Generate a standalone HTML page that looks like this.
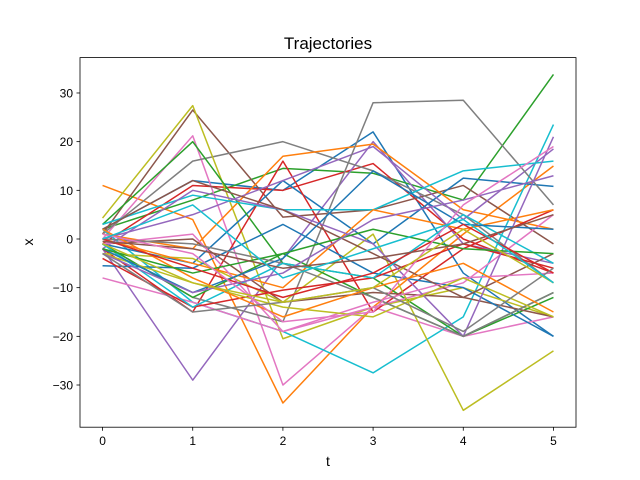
<!DOCTYPE html>
<html><head><meta charset="utf-8"><style>
body{margin:0;background:#fff}
svg{display:block;font-family:"Liberation Sans","DejaVu Sans",sans-serif}
</style></head><body>
<svg id="chart" width="640" height="480">
<rect width="640" height="480" fill="#fff"/>
<text x="328" y="49" text-anchor="middle" font-size="17">Trajectories</text>
<g id="plot"></g>
<text x="328" y="466" text-anchor="middle" font-size="14">t</text>
<text x="0" y="0" transform="translate(33,242) rotate(-90)" text-anchor="middle" font-size="14">x</text>
</svg>
<script>
const times = [0,1,2,3,4,5];
const xTicks = [0,1,2,3,4,5];
const yTicks = [-30,-20,-10,0,10,20,30];
const series = [
[2,12,10,22,-7,-20],
[11,4,-33.7,-14,1,15],
[2,8,14.5,13.5,8,33.8],
[-1,11,10,15.5,0,-7],
[-2,-29,-4,20,-1,-5],
[1,26.5,4.5,6,11,-1],
[0,21.2,-30,-14,-20,-16],
[1,16,20,14,5,-9],
[4.3,27.4,-20.5,-14,-10,-16],
[2,-13,-19,-27.5,-16,23.5],
[-1,-5,12,-1,12.5,10.8],
[1,-2,17,19.5,6,2],
[3,20,-5,-8,-20,-12],
[-2,-15,16,-15,-2,6],
[0,5,12,19,4,18.5],
[-1,0,-13,-11,-12,-16],
[-8,-13,-19,-14,-9,5],
[-1,-12,-17,28,28.5,7],
[-3,-4,-13,1,-35.2,-23],
[3,9,6,6,14,16],
[-5.5,-6,3,-7,-10,-20],
[0,-5,-10,6,2,6],
[-1,-12,-3,-12,-20,-11],
[-4,-14,-10.5,-8,-1,-6],
[-2,10,6,-1,-20,21],
[2,12,6,-3,-12,-3],
[-1,1,-19,-13,-8,-7],
[0,-1,-5,-12,-20,-11],
[-3,-9,-14,-16,-8,-16],
[-1,-14,-5,-8,5,-5],
[-2,-11,-4,14,3,2],
[2,-8,-16,-10,-5,-15],
[-2,-7,-3,2,-2,-3],
[0,-6,-12,-7,3,-7],
[-3,-11,-7,4,8,13],
[-0.5,-2,-6,-4,-1,5],
[1,-3,-17,-15,7,19],
[-3,-15,-13,-10,-19,-6],
[-1,-9,-13,-10,2,-9],
[0,7,-8,-2,4,-9]
];
const palette = ["#1f77b4","#ff7f0e","#2ca02c","#d62728","#9467bd","#8c564b","#e377c2","#7f7f7f","#bcbd22","#17becf"];
const L=80,R=576,T=57.6,B=427.2;
const xmin=-0.25,xmax=5.25,ymin=-38.67,ymax=37.27;
const sx=v=>L+(v-xmin)/(xmax-xmin)*(R-L);
const sy=v=>B-(v-ymin)/(ymax-ymin)*(B-T);
const NS="http://www.w3.org/2000/svg";
const g=document.getElementById('plot');
function mk(tag,attrs){const e=document.createElementNS(NS,tag);for(const k in attrs)e.setAttribute(k,attrs[k]);return e;}
series.forEach((s,i)=>{
  const p=mk('polyline',{points:s.map((v,j)=>sx(times[j])+','+sy(v)).join(' '),fill:'none',stroke:palette[i%10],'stroke-width':1.5,'stroke-linejoin':'round'});
  
  
  g.appendChild(p);
});
const frame=mk('rect',{x:L,y:T,width:R-L,height:B-T,fill:'none',stroke:'#000','stroke-width':0.8});


g.appendChild(frame);
xTicks.forEach(v=>{
  const x=sx(v);
  const t=mk('line',{x1:x,x2:x,y1:B,y2:B+3.5,stroke:'#000','stroke-width':0.8});
  
  
  g.appendChild(t);
  const l=mk('text',{x:x,y:B+18,'text-anchor':'middle','font-size':12});
  l.textContent=v;
  
  
  g.appendChild(l);
});
yTicks.forEach(v=>{
  const y=sy(v);
  const t=mk('line',{x1:L-3.5,x2:L,y1:y,y2:y,stroke:'#000','stroke-width':0.8});
  
  
  g.appendChild(t);
  const l=mk('text',{x:L-7,y:y+4.5,'text-anchor':'end','font-size':12});
  l.textContent=v<0?'\u2212'+Math.abs(v):v;
  
  
  g.appendChild(l);
});
</script>
</body></html>
